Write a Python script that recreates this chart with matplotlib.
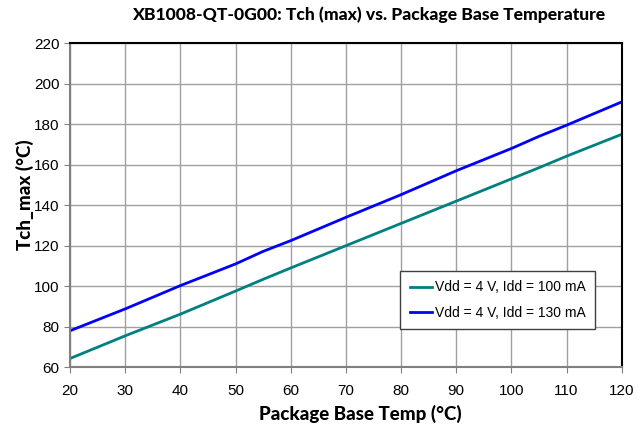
import numpy as np
import matplotlib.pyplot as plt

# data
temp = [20, 30, 40, 50, 55, 60, 70, 75, 80, 90, 100, 105, 110, 120]
tch_100mA = [64.3, 75.5, 86.2, 97.6, 103.4, 109, 120, 125.5, 131, 142, 153, 158.5, 164.2, 175]
tch_130mA = [78, 88.8, 100.3, 111, 117.2, 122.5, 134, 139.6, 145.2, 157, 168, 174, 179.5, 191]

labels = ["Vdd = 4 V, Idd = 100 mA", "Vdd = 4 V, Idd = 130 mA"]

plt.rcParams['font.family'] = ['Liberation Sans', 'DejaVu Sans']
bold_font = dict(fontsize=13.5, fontweight="black", family=["Lato", "DejaVu Sans"])

fig = plt.figure(figsize=(6.37, 4.32), dpi=100)
ax = fig.add_axes([0.110, 0.150, 0.866, 0.750])

ax.plot(temp, tch_100mA, color="#008080", lw=2, label=labels[0])
ax.plot(temp, tch_130mA, color="#0000ff", lw=2, label=labels[1])

ax.set_xlim(20, 120)
ax.set_ylim(60, 220)
ax.set_xticks(np.arange(20, 121, 10))
ax.set_yticks(np.arange(60, 221, 20))
ax.tick_params(labelsize=11, direction="out", length=4, color="#808080")
ax.tick_params(axis="x", pad=8)
ax.grid(True, color="#a0a0a0", lw=1)
ax.set_axisbelow(True)

for side in ["left", "bottom"]:
    ax.spines[side].set_color("#808080")
    ax.spines[side].set_linewidth(1.5)
for side in ["top", "right"]:
    ax.spines[side].set_color("black")
    ax.spines[side].set_linewidth(1.5)

fig.text(369 / 637, 1 - 15 / 432, "XB1008-QT-0G00: Tch (max) vs. Package Base Temperature",
         ha="center", va="center", **dict(bold_font, fontsize=12.6))
fig.text(360 / 637, 1 - 414 / 432, "Package Base Temp (°C)", ha="center", va="center", **bold_font)
fig.text(25 / 637, 1 - 195 / 432, "Tch_max (°C)", ha="center", va="center",
         rotation=90, **bold_font)

leg = ax.legend(loc="lower left", bbox_to_anchor=(0.598, 0.117), fontsize=10,
                fancybox=False, framealpha=1, edgecolor="#404040", borderaxespad=0,
                handlelength=1.6, handletextpad=0.2, borderpad=0.7, labelspacing=0.8)
leg.get_frame().set_linewidth(1)

fig.savefig("out.png", dpi=100)
